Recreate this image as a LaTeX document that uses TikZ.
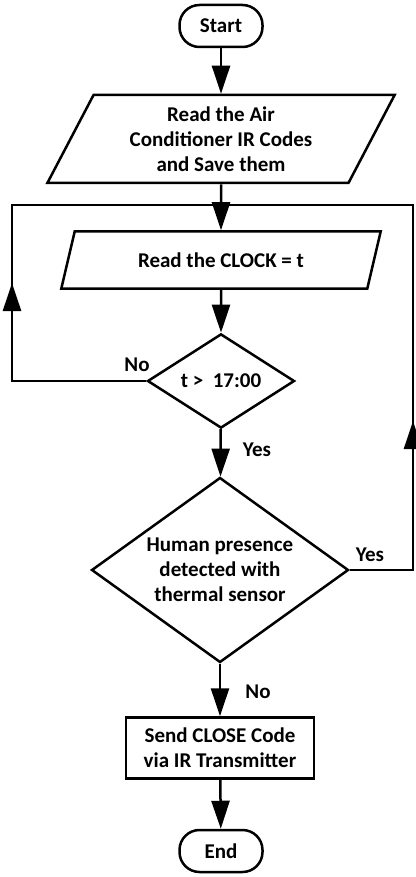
\documentclass[tikz,border=0pt]{standalone}
\usepackage{fontspec}
\setmainfont{Carlito}
\usetikzlibrary{shapes.geometric,arrows.meta}
\tikzset{
  terminal/.style={draw, rectangle, rounded corners=20pt, minimum width=83pt, minimum height=42pt, inner sep=0pt},
  inout/.style={draw, trapezium, trapezium left angle=63, trapezium right angle=117, trapezium stretches=true, inner sep=0pt, align=center},
  decision/.style={draw, diamond, inner sep=0pt, align=center},
  process/.style={draw, rectangle, minimum width=188pt, minimum height=61pt, inner sep=0pt, align=center},
  lbl/.style={inner sep=0pt}
}
\begin{document}
\begin{tikzpicture}[x=1pt, y=-1pt, line width=2.5pt, line join=miter,
  font=\fontsize{21}{25}\selectfont\bfseries, >={Triangle[width=18pt,length=28pt]}]
  \useasboundingbox (0,0) rectangle (415,877);
  %\draw[gray!10] (0,0) grid[step=50] (415,877);
  \node[terminal] (start) at (221,26) {Start};
  \node[inout, minimum width=348pt, minimum height=88pt] (codes) at (221,139) {Read the Air\\Conditioner IR Codes\\and Save them};
  \node[inout, minimum width=320pt, minimum height=57pt] (clock) at (221,260) {Read the CLOCK = t};
  \node[decision, minimum width=147pt, minimum height=87pt] (time) at (221,381) {t >\ \ 17:00};
  \node[decision, minimum width=257pt, minimum height=185pt, shape aspect=1.39] (human) at (220,570) {Human presence\\detected with\\thermal sensor};
  \node[process] (send) at (220,748) {Send CLOSE Code\\via IR Transmitter};
  \node[terminal] (end) at (221,851) {End};

  \coordinate (LB) at (12,381);
  \coordinate (LM) at (12,283);
  \coordinate (LT) at (12,205);
  \coordinate (RT) at (413,205);
  \coordinate (RM) at (413,421);
  \coordinate (RB) at (413,570);

  \draw[->] (start) -- (codes);
  \draw[->] (codes) -- (clock);
  \draw[->] (clock) -- (time);
  \draw[->] (time) -- (human);
  \draw[->] (human) -- (send);
  \draw[->] (send) -- (end);
  \draw (time.west) -- (LB) -- (LT) -- (RT) -- (RB) -- (human.east);
  \draw[->] (LB) -- (LM);
  \draw[->] (RB) -- (RM);

  \node[lbl] (no1) at (137,365) {No};
  \node[lbl] (yes1) at (257,450) {Yes};
  \node[lbl] (yes2) at (370,555) {Yes};
  \node[lbl] (no2) at (258,692) {No};
\end{tikzpicture}
\end{document}
